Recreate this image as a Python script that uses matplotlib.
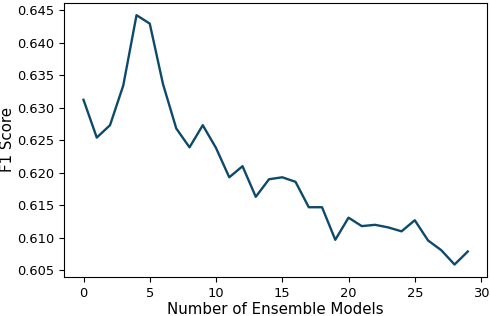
import matplotlib
matplotlib.use("Agg")
import matplotlib.pyplot as plt

n_models = list(range(30))
f1_scores = [0.6312, 0.6254, 0.6273, 0.6334, 0.6442, 0.6429, 0.6336, 0.6268, 0.6239, 0.6273,
             0.6238, 0.6193, 0.6210, 0.6163, 0.6190, 0.6193, 0.6186, 0.6147, 0.6147, 0.6097,
             0.6131, 0.6118, 0.6120, 0.6116, 0.6110, 0.6127, 0.6096, 0.6081, 0.6059, 0.6079]

fig = plt.figure(figsize=(4.9, 3.16), dpi=100)
ax = fig.add_axes([64.3/490, 1-277/316, (487-64.3)/490, (277-2.7)/316])
ax.plot(n_models, f1_scores, color="#0d4a6a", linewidth=1.7)
ax.set_xticks([0, 5, 10, 15, 20, 25, 30])
ax.set_yticks([0.605, 0.610, 0.615, 0.620, 0.625, 0.630, 0.635, 0.640, 0.645])
ax.set_yticklabels([f"{v:.3f}" for v in ax.get_yticks()])
ax.tick_params(labelsize=9.4)
ax.set_xlabel("Number of Ensemble Models", fontsize=10.8, labelpad=2)
ax.set_ylabel("F1 Score", fontsize=10.8, labelpad=1.5)
fig.savefig("out.png", dpi=100)
